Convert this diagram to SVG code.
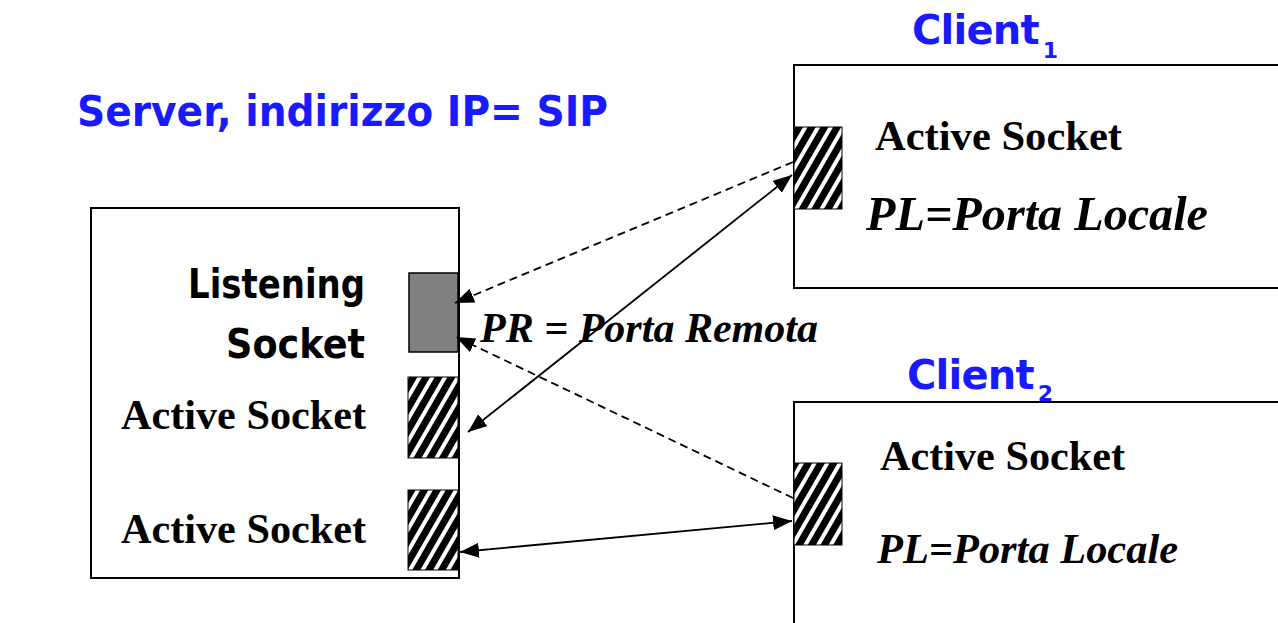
<svg xmlns="http://www.w3.org/2000/svg" width="1278" height="623" viewBox="0 0 1278 623">
<style>
.box{fill:#fff;stroke:#000;stroke-width:2}
.hatch{fill:url(#stripes);stroke:#000;stroke-width:1}
.comic{font-family:"DejaVu Sans","Liberation Sans",sans-serif;font-weight:bold}
.blue{fill:#1a1aff}
.client{font-size:40px;letter-spacing:-0.8px}
.sub{font-size:22px;letter-spacing:0}
.tb{font-family:"Liberation Serif","Times New Roman",serif;font-weight:bold;fill:#000}
.tbi{font-family:"Liberation Serif","Times New Roman",serif;font-weight:bold;font-style:italic;fill:#000}
.solid{stroke:#000;stroke-width:1.8;fill:none}
.dash{stroke:#000;stroke-width:1.8;fill:none;stroke-dasharray:8 5}
</style>
<defs>
<pattern id="stripes" width="11" height="11" patternUnits="userSpaceOnUse" patternTransform="rotate(30)">
<rect width="11" height="11" fill="#000"/>
<rect width="4" height="11" fill="#fff"/>
</pattern>
<marker id="arr" markerUnits="userSpaceOnUse" markerWidth="20" markerHeight="16" refX="19" refY="7.5" orient="auto-start-reverse">
<path d="M0,0 L19,7.5 L0,15 z" fill="#000"/>
</marker>
</defs>

<text class="comic blue" x="77" y="126" font-size="42" textLength="531" lengthAdjust="spacingAndGlyphs">Server, indirizzo IP= SIP</text>

<g id="server">
<rect class="box" x="91" y="208" width="368" height="370"/>
<rect id="listening-socket" x="409" y="273" width="49" height="79" fill="#808080" stroke="#000" stroke-width="1.5"/>
<rect id="server-active-1" class="hatch" x="408" y="377" width="50" height="81"/>
<rect id="server-active-2" class="hatch" x="408" y="490" width="50" height="80"/>
<text class="comic" x="365" y="298" font-size="40" text-anchor="end" textLength="177" lengthAdjust="spacingAndGlyphs">Listening</text>
<text class="comic" x="365" y="358" font-size="40" text-anchor="end" textLength="139" lengthAdjust="spacingAndGlyphs">Socket</text>
<text class="tb" x="121" y="429" font-size="43" textLength="245" lengthAdjust="spacingAndGlyphs">Active Socket</text>
<text class="tb" x="121" y="543" font-size="43" textLength="245" lengthAdjust="spacingAndGlyphs">Active Socket</text>
</g>

<g id="client1">
<text class="comic blue client" x="912" y="44">Client<tspan class="sub" dx="4" dy="14">1</tspan></text>
<rect class="box" x="794" y="65" width="520" height="223"/>
<rect id="client1-socket" class="hatch" x="794" y="127" width="48" height="82"/>
<text class="tb" x="875" y="150" font-size="43" textLength="247" lengthAdjust="spacingAndGlyphs">Active Socket</text>
<text class="tbi" x="866" y="230" font-size="48" textLength="342" lengthAdjust="spacingAndGlyphs">PL=Porta Locale</text>
</g>

<g id="client2">
<text class="comic blue client" x="907" y="389">Client<tspan class="sub" dx="4" dy="12">2</tspan></text>
<rect class="box" x="794" y="402" width="520" height="300"/>
<rect id="client2-socket" class="hatch" x="794" y="463" width="48" height="82"/>
<text class="tb" x="880" y="470" font-size="43" textLength="245" lengthAdjust="spacingAndGlyphs">Active Socket</text>
<text class="tbi" x="877" y="563" font-size="43" textLength="301" lengthAdjust="spacingAndGlyphs">PL=Porta Locale</text>
</g>

<g id="connectors">
<line class="dash" x1="793" y1="162" x2="455" y2="303" marker-end="url(#arr)"/>
<line class="dash" x1="793" y1="498" x2="456" y2="337" marker-end="url(#arr)"/>
<line class="solid" x1="468" y1="432" x2="792" y2="175" marker-start="url(#arr)" marker-end="url(#arr)"/>
<line class="solid" x1="460" y1="552" x2="792" y2="521" marker-start="url(#arr)" marker-end="url(#arr)"/>
</g>

<text class="tbi" x="480" y="342" font-size="42" textLength="338" lengthAdjust="spacingAndGlyphs">PR = Porta Remota</text>
</svg>
